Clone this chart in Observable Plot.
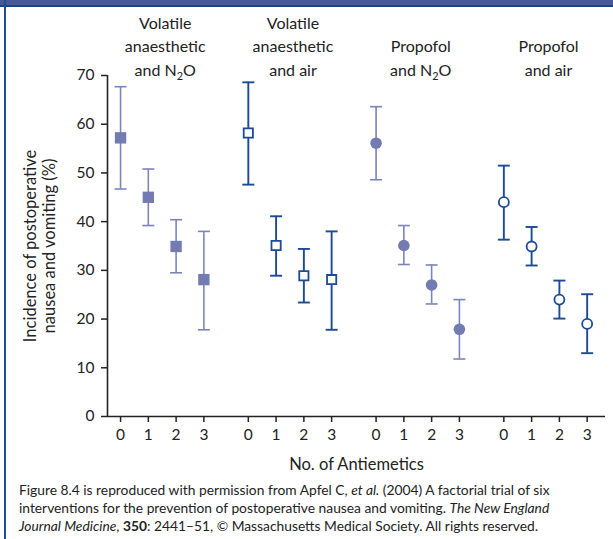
<!DOCTYPE html>
<html><head><meta charset="utf-8">
<script src="https://cdn.jsdelivr.net/npm/d3@7"></script>
<script src="https://cdn.jsdelivr.net/npm/@observablehq/plot@0.6"></script>
<style>
html,body{margin:0;padding:0;background:#fff;}
#wrap{position:relative;width:613px;height:539px;overflow:hidden;font-family:Lato,"Open Sans",sans-serif;color:#222;}
#band{position:absolute;left:0;top:0;width:613px;height:5px;background:#4b5896;border-bottom:2px solid #1d3f8c;}
#edge{position:absolute;left:4px;top:0;width:2px;height:539px;background:#1f4e96;}
#chart{position:absolute;left:0;top:0;}
#caption{position:absolute;left:19px;top:481px;font-size:13.8px;line-height:18px;color:#222;white-space:nowrap;}
</style></head>
<body>
<div id="wrap">
  <div id="chart"></div>
  <div id="band"></div>
  <div id="edge"></div>
  <div id="caption">Figure 8.4 is reproduced with permission from Apfel C, <i>et al.</i> (2004) A factorial trial of six<br>interventions for the prevention of postoperative nausea and vomiting. <i>The New England</i><br><i>Journal Medicine</i>, <b>350</b>: 2441–51, © Massachusetts Medical Society. All rights reserved.</div>
</div>
<script>
// ---- data ----
const groupLabels = [
  "Volatile\nanaesthetic\nand N2O",
  "Volatile\nanaesthetic\nand air",
  "Propofol\nand N2O",
  "Propofol\nand air"
];
const antiemetics = [0, 1, 2, 3];
const incidence = [
  [57.2, 45.0, 34.9, 28.1],
  [58.2, 35.1, 28.9, 28.1],
  [56.1, 35.1, 27.0, 17.9],
  [44.0, 34.9, 24.0, 19.0]
];
const lower = [
  [46.7, 39.2, 29.5, 17.8],
  [47.6, 28.9, 23.4, 17.8],
  [48.6, 31.2, 23.1, 11.8],
  [36.3, 31.0, 20.1, 13.0]
];
const upper = [
  [67.7, 50.8, 40.4, 38.0],
  [68.6, 41.1, 34.4, 38.0],
  [63.6, 39.2, 31.1, 24.0],
  [51.5, 38.9, 27.9, 25.1]
];
const yTicks = [0, 10, 20, 30, 40, 50, 60, 70];
const xLabel = "No. of Antiemetics";
const yLabel = "Incidence of postoperative\nnausea and vomiting (%)";

// ---- styles ----
const markerSymbols = ["square", "square", "circle", "circle"];
const markerFilled = [true, false, true, false];
const markerR = [6.4, 5.2, 5.8, 5.0];
const groupColors = ["#737bb3", "#1c4a94", "#737bb3", "#1c4a94"];
const barColors = ["#7c84ba", "#1c4a94", "#7c84ba", "#1c4a94"];
const barWidths = [1.6, 1.9, 1.6, 1.9];

const GAP = 4.6;
const rows = [];
groupLabels.forEach((g, gi) => antiemetics.forEach((a, ai) => rows.push({
  gi, a, pos: gi * GAP + a,
  value: incidence[gi][ai], lo: lower[gi][ai], hi: upper[gi][ai]
})));
const posLabel = new Map(rows.map(d => [d.pos, String(d.a)]));
const xDomain = [-0.47, 3 * GAP + 3 + 0.66];

const cap = {draw(ctx, size) { const w = Math.sqrt(size / Math.PI); ctx.moveTo(-w, 0); ctx.lineTo(w, 0); }};

const marks = [];
groupLabels.forEach((g, gi) => {
  const sub = rows.filter(d => d.gi === gi);
  marks.push(Plot.ruleX(sub, {x: "pos", y1: "lo", y2: "hi", stroke: barColors[gi], strokeWidth: barWidths[gi]}));
  marks.push(Plot.dot(sub, {x: "pos", y: "lo", symbol: cap, r: 6, fill: "none", stroke: barColors[gi], strokeWidth: barWidths[gi]}));
  marks.push(Plot.dot(sub, {x: "pos", y: "hi", symbol: cap, r: 6, fill: "none", stroke: barColors[gi], strokeWidth: barWidths[gi]}));
});
groupLabels.forEach((g, gi) => {
  const sub = rows.filter(d => d.gi === gi);
  marks.push(Plot.dot(sub, {
    x: "pos", y: "value", symbol: markerSymbols[gi], r: markerR[gi],
    fill: markerFilled[gi] ? groupColors[gi] : "white",
    stroke: markerFilled[gi] ? "none" : groupColors[gi],
    strokeWidth: 1.8
  }));
});

const chart = Plot.plot({
  width: 613,
  height: 475,
  marginLeft: 107,
  marginRight: 8,
  marginTop: 75,
  marginBottom: 59,
  style: {fontFamily: "Lato, 'Open Sans', sans-serif", color: "#222", background: "transparent"},
  x: {domain: xDomain},
  y: {domain: [0, 70]},
  marks: [
    Plot.ruleY([0], {stroke: "#222", strokeWidth: 1.6}),
    Plot.ruleX([xDomain[0]], {stroke: "#222", strokeWidth: 1.6}),
    Plot.axisY({ticks: yTicks, tickSize: 6, tickPadding: 7, fontSize: 15.5, label: null, strokeWidth: 1.5}),
    Plot.axisX({ticks: rows.map(d => d.pos), tickFormat: p => posLabel.get(p), tickSize: 6, tickPadding: 6, fontSize: 15.5, label: null, strokeWidth: 1.5}),
    ...marks,
    Plot.text(groupLabels, {x: (d, i) => i * GAP + 1.5, frameAnchor: "top", lineAnchor: "bottom", lineHeight: 1.45, dy: 0, dx: 3, fontSize: 16, fill: "#222"}),
    Plot.text([xLabel], {frameAnchor: "bottom", dy: 53, fontSize: 16.5, fill: "#222"}),
    Plot.text([yLabel], {frameAnchor: "left", rotate: -90, dx: -68, textAnchor: "middle", lineAnchor: "middle", lineHeight: 1.12, fontSize: 16.5, fill: "#222"})
  ]
});
document.getElementById("chart").appendChild(chart);

// subscript 2 in N2O
d3.select(chart).selectAll("tspan").each(function() {
  const t = d3.select(this);
  if (this.childElementCount === 0 && t.text().includes("N2O")) {
    const parts = t.text().split("N2O");
    t.text("");
    t.append("tspan").text(parts[0] + "N");
    t.append("tspan").attr("dy", 4).attr("font-size", "0.68em").text("2");
    t.append("tspan").attr("dy", -4).text("O" + parts[1]);
  }
});
</script>
</body></html>
